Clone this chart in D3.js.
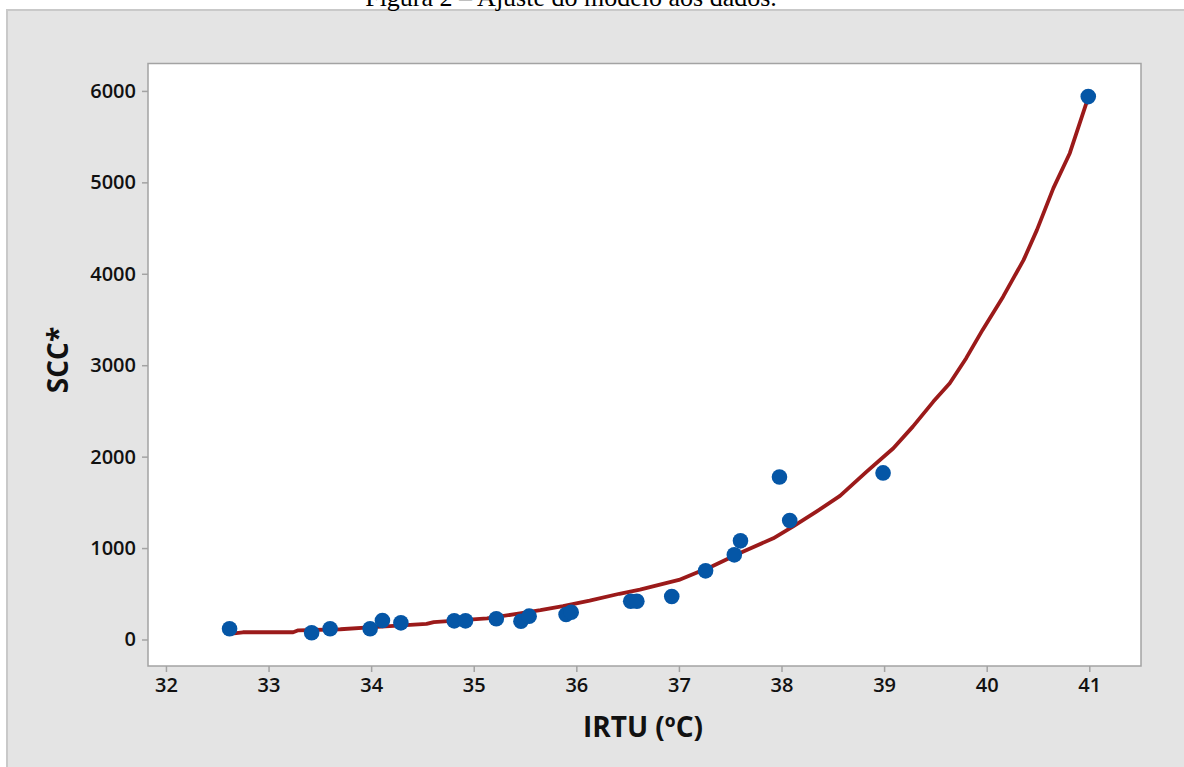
<!DOCTYPE html>
<html><head><meta charset="utf-8">
<script src="https://cdn.jsdelivr.net/npm/d3@7"></script>
<style>body{margin:0;background:#fff;} svg{display:block}</style>
</head><body><svg id="c" width="1184" height="767"></svg>
<script>
// Observed data
const irtu = [32.62, 33.42, 33.60, 33.99, 34.11, 34.29, 34.81, 34.92, 35.22, 35.46, 35.54, 35.90, 35.95, 36.53, 36.59, 36.93, 37.26, 37.54, 37.60, 37.98, 38.08, 38.99, 40.99];
const scc  = [117, 73, 117, 117, 208, 182, 204, 204, 226, 200, 255, 273, 298, 419, 419, 470, 751, 926, 1079, 1778, 1301, 1822, 5938];
// Fitted curve
const fitX = [32.64, 32.75, 33.24, 33.29, 33.70, 34.02, 34.54, 34.61, 35.13, 35.45, 35.65, 35.87, 36.13, 36.42, 36.62, 37.00, 37.33, 37.59, 37.92, 38.11, 38.34, 38.57, 38.83, 39.09, 39.28, 39.48, 39.64, 39.80, 39.96, 40.16, 40.36, 40.49, 40.65, 40.81, 40.99];
const fitY = [65, 79, 79, 100, 112, 135, 170, 190, 230, 285, 320, 365, 425, 500, 545, 651, 804, 943, 1107, 1234, 1398, 1570, 1836, 2092, 2328, 2602, 2803, 3077, 3386, 3750, 4152, 4480, 4937, 5319, 5930];
const xTicks = [32, 33, 34, 35, 36, 37, 38, 39, 40, 41];
const yTicks = [0, 1000, 2000, 3000, 4000, 5000, 6000];
const title = "Figura 2 – Ajuste do modelo aos dados.";
const xTitle = "IRTU (ºC)";
const yTitle = "SCC*";

const svg = d3.select("#c");
const L = 148, R = 1141, T = 63.5, B = 666;
const x = d3.scaleLinear().domain([31.825, 41.504]).range([L, R]);
const y = d3.scaleLinear().domain([-290, 6300]).range([B, T]);

// outer panel
svg.append("rect").attr("x", 7).attr("y", 10).attr("width", 1200).attr("height", 800)
  .attr("fill", "#e4e4e4").attr("stroke", "#c9c9c9").attr("stroke-width", 2);

// title (cut at top, as in the source)
svg.append("text").attr("x", 571).attr("y", 6).attr("text-anchor", "middle")
  .attr("font-family", "'Liberation Serif', 'Times New Roman', serif").attr("font-size", 26)
  .attr("fill", "#000").text(title);

// plot area
svg.append("rect").attr("x", L).attr("y", T).attr("width", R - L).attr("height", B - T)
  .attr("fill", "#fff").attr("stroke", "#a3a3a3").attr("stroke-width", 1.5);

const font = "'Open Sans', 'Noto Sans', sans-serif";

const xAxis = svg.append("g").attr("transform", `translate(0,${B})`)
  .call(d3.axisBottom(x).tickValues(xTicks).tickSize(6).tickPadding(6).tickFormat(d3.format("d")));
const yAxis = svg.append("g").attr("transform", `translate(${L},0)`)
  .call(d3.axisLeft(y).tickValues(yTicks).tickSize(6).tickPadding(6).tickFormat(d3.format("d")));
[xAxis, yAxis].forEach(a => {
  a.select(".domain").remove();
  a.selectAll(".tick line").attr("stroke", "#a3a3a3").attr("stroke-width", 1.5);
  a.selectAll(".tick text").attr("font-family", font).attr("font-size", 20)
    .attr("font-weight", 600).attr("fill", "#111");
});

// fitted line
const line = d3.line().x((d, i) => x(fitX[i])).y((d, i) => y(fitY[i]));
svg.append("path").datum(fitX).attr("d", line).attr("fill", "none")
  .attr("stroke", "#9b1a1a").attr("stroke-width", 3.8).attr("stroke-linejoin", "round");

// points
svg.append("g").selectAll("circle").data(irtu).join("circle")
  .attr("cx", d => x(d)).attr("cy", (d, i) => y(scc[i])).attr("r", 7.8)
  .attr("fill", "#0556a6");

// axis titles
svg.append("text").attr("x", 643).attr("y", 737).attr("text-anchor", "middle")
  .attr("font-family", font).attr("font-size", 28).attr("font-weight", 700)
  .attr("fill", "#111").text(xTitle);
svg.append("text").attr("transform", "translate(68,360) rotate(-90)").attr("text-anchor", "middle")
  .attr("font-family", font).attr("font-size", 28).attr("font-weight", 700)
  .attr("fill", "#111").text(yTitle);
</script>
</body></html>
